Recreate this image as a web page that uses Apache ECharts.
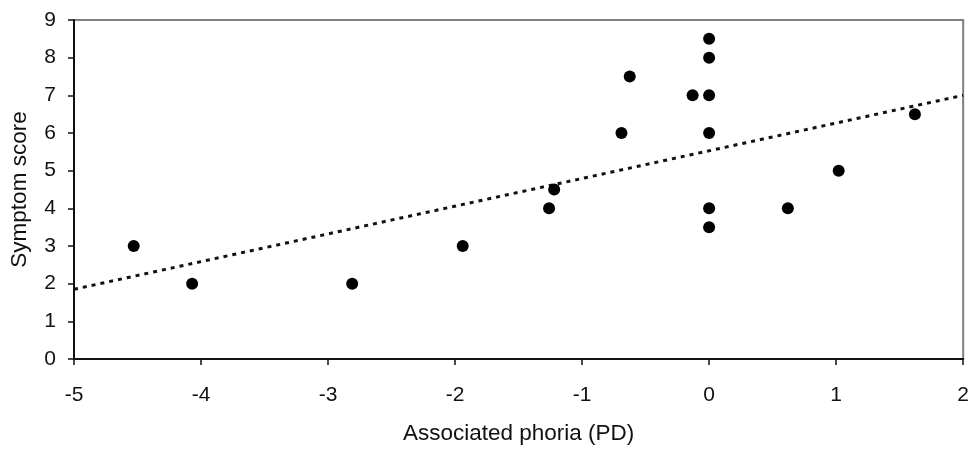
<!DOCTYPE html>
<html>
<head>
<meta charset="utf-8">
<script src="https://cdn.jsdelivr.net/npm/echarts@6/dist/echarts.min.js"></script>
<style>html,body{margin:0;padding:0;background:#fff}#c{width:972px;height:450px}</style>
</head>
<body>
<div id="c"></div>
<script>
var phoria = [-4.53, -4.07, -2.81, -1.94, -1.26, -1.22, -0.69, -0.625, -0.13, 0, 0, 0, 0, 0, 0, 0.62, 1.02, 1.62];
var symptom = [3, 2, 2, 3, 4, 4.5, 6, 7.5, 7, 8.5, 8, 7, 6, 4, 3.5, 4, 5, 6.5];
var trendX = [-5, 2];
var trendY = [1.85, 7.0];
var xTicks = [-5, -4, -3, -2, -1, 0, 1, 2];
var yTicks = [0, 1, 2, 3, 4, 5, 6, 7, 8, 9];

var pts = phoria.map(function (x, i) { return [x, symptom[i]]; });
var trend = trendX.map(function (x, i) { return [x, trendY[i]]; });
var font = 'Liberation Sans, Arial, sans-serif';

var chart = echarts.init(document.getElementById('c'));
chart.setOption({
  animation: false,
  backgroundColor: '#fff',
  grid: { left: 73, right: 5, top: 20, bottom: 84, show: true, borderColor: '#808080', borderWidth: 2, containLabel: false },
  xAxis: {
    type: 'value', min: xTicks[0], max: xTicks[xTicks.length - 1], interval: 1,
    name: 'Associated phoria (PD)', nameLocation: 'middle', nameGap: 63,
    nameTextStyle: { fontFamily: font, fontSize: 22.5, color: '#111' },
    axisLine: { onZero: false, lineStyle: { color: '#111', width: 2 } },
    axisTick: { show: true, length: 6, lineStyle: { color: '#111', width: 1.5 } },
    axisLabel: { fontFamily: font, fontSize: 21, color: '#111', margin: 26 },
    splitLine: { show: false }
  },
  yAxis: {
    type: 'value', min: yTicks[0], max: yTicks[yTicks.length - 1], interval: 1,
    name: 'Symptom score', nameLocation: 'middle', nameGap: 43,
    nameTextStyle: { fontFamily: font, fontSize: 22.5, color: '#111' },
    axisLine: { show: true, onZero: false, lineStyle: { color: '#111', width: 2 } },
    axisTick: { show: true, length: 6, lineStyle: { color: '#111', width: 1.5 } },
    axisLabel: { fontFamily: font, fontSize: 21, color: '#111', margin: 18 },
    splitLine: { show: false }
  },
  series: [
    {
      type: 'line', data: trend, showSymbol: false, symbol: 'none', z: 1,
      lineStyle: { color: '#111', width: 3, type: [4, 5] }
    },
    {
      type: 'scatter', data: pts, symbol: 'circle', symbolSize: 12, z: 3,
      itemStyle: { color: '#000', opacity: 1 }
    }
  ]
});
</script>
</body>
</html>
